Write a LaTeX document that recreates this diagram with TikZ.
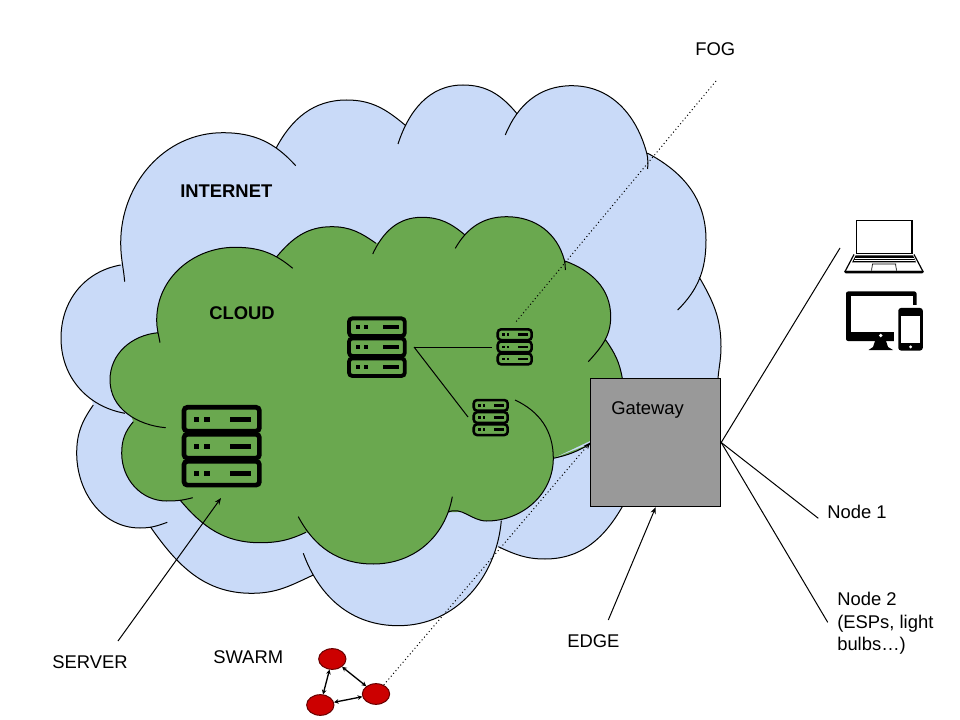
\documentclass[tikz,border=0pt]{standalone}
\usepackage{fontspec}
\setmainfont{Liberation Sans}
\usetikzlibrary{shapes.geometric, arrows.meta}
\definecolor{skyfill}{RGB}{201,218,248}
\definecolor{leaffill}{RGB}{106,168,79}
\definecolor{boxgray}{RGB}{153,153,153}
\definecolor{swarmred}{RGB}{204,0,0}
\definecolor{swarmedge}{RGB}{102,0,0}
\tikzset{
  cloudline/.style={draw=black, line width=0.75pt},
  label/.style={font=\fontsize{13.8}{16.9}\selectfont, inner sep=0pt, anchor=west},
  boldlabel/.style={label, font=\fontsize{13.8}{16.9}\selectfont\bfseries},
  wire/.style={line width=0.75pt},
  arrow/.style={-{Stealth[length=5pt,width=4pt]}, line width=0.75pt},
  fogline/.style={line width=0.75pt, dotted},
  swarmnode/.style={ellipse, draw=swarmedge, fill=swarmred, line width=0.75pt,
    minimum width=20.5pt, minimum height=15.5pt, inner sep=0pt},
  swarmlink/.style={{Stealth[length=3.5pt,width=3.5pt]}-{Stealth[length=3.5pt,width=3.5pt]},
    line width=1pt},
  pics/rackicon/.style={code={
    \foreach \u in {0,1,2} {
      \draw[line width=#1, rounded corners=2.5pt] (2.3,2.3+27*\u) rectangle (77.7,26.1+27*\u);
      \fill (12.3,11.5+27*\u) rectangle (17.6,17+27*\u);
      \fill (22.6,11.5+27*\u) rectangle (28.3,17+27*\u);
      \fill (48.3,11.5+27*\u) rectangle (69.3,17+27*\u);
    }
  }}
}
\begin{document}
\begin{tikzpicture}[x=0.75pt, y=-0.75pt]
  \useasboundingbox (0,0) rectangle (960,720);

  % internet cloud
  \fill[skyfill] (120.7,265) -- (128,245) -- (223,142) -- (276,148.3) -- (347,110) -- (405,125) -- (463,95)
    -- (516.7,113.3) -- (572,95) -- (640,150) -- (647.7,153.3) -- (696,240) -- (699.3,277.3) -- (712,346) -- (715,378)
    -- (700,470) -- (626,500) -- (545,550) -- (498.3,546.7) -- (398,615) -- (313.3,575) -- (252,583) -- (151,527.7)
    -- (140,518) -- (87,453) -- (93.3,405) -- (72,338) -- cycle;
  \path[cloudline, fill=skyfill]
    (124.7,281.7) to[out=95,in=270] (120.7,243) to[out=90,in=180] (223,132.7) to[out=0,in=132] (295.7,165.7)
    (276,148.3) to[out=62,in=180] (346.7,100) to[out=0,in=140] (405,125)
    (398,144) to[out=72,in=180] (463,85) to[out=0,in=130] (516.7,113.3)
    (505.3,135) to[out=68,in=180] (571.7,85.7) to[out=0,in=105] (646.7,153) to[out=285,in=90] (647.7,169)
    (647.7,153.3) to[out=-28,in=90] (706,240) to[out=270,in=45] (677.7,310)
    (699.3,277.3) to[out=-60,in=90] (721,346.7) to[out=270,in=85] (718,378.3) -- (700,470) -- (626,500)
    (626,500) to[out=-118,in=0] (545,559) to[out=180,in=-25] (498.3,546.7)
    (501.3,520.7) to[out=265,in=0] (398.3,625.7) to[out=180,in=-70] (303.3,553.3)
    (313.3,575) to[out=-155,in=0] (251.7,593.3) to[out=180,in=-55] (151,527.7)
    (167.3,522.3) to[out=-160,in=0] (140,528) to[out=180,in=270] (76.7,453.3) to[out=90,in=-125] (93.3,405)
    (125,413.3) to[out=170,in=270] (61,338) to[out=90,in=190] (120.7,265);

  % cloud network
  \fill[leaffill] (158.3,332.7) -- (162,320) -- (235,257) -- (276.7,256.7) -- (332,236) -- (376,243.3) -- (422,227)
    -- (465,235) -- (507,226) -- (565,261) -- (603,317) -- (605.7,340) -- (615,378) -- (615,420)
    -- (592,440) -- (553.3,458.3) -- (487,511) -- (447.7,512.3) -- (373,554) -- (306,532.3) -- (260,533)
    -- (180,500) -- (167,491) -- (130,453) -- (133.3,421.7) -- (118,380) -- cycle;
  \path[cloudline, fill=leaffill]
    (160,342.7) to[out=100,in=270] (156.7,320) to[out=90,in=180] (235,247.3) to[out=0,in=140] (292.7,268.3)
    (276.7,256.7) to[out=50,in=180] (331.7,226.7) to[out=0,in=145] (376,243.3)
    (372.7,254) to[out=65,in=180] (421.7,217.3) to[out=0,in=140] (465,235)
    (455.3,248.3) to[out=60,in=180] (506.7,216.7) to[out=0,in=105] (564.3,260) to[out=285,in=90] (565.3,270)
    (565,261) to[out=-20,in=90] (610.7,316.7) to[out=270,in=48] (588.3,361.7)
    (605.7,340) to[out=-55,in=100] (622.3,378.3) -- (622,420) -- (590,444)
    (590,444) to[out=-150,in=12] (553.3,458.3)
    (515,400) to[out=-25,in=90] (553.3,458.3) to[out=270,in=0] (486.7,521) to[out=180,in=25] (447.7,512.3)
    (452.3,496.7) to[out=260,in=0] (373.3,564) to[out=180,in=-62] (298.3,516.7)
    (306,532.3) to[out=-155,in=0] (260,542.7) to[out=180,in=-50] (180,500)
    (192.7,497.7) to[out=-165,in=0] (166.7,501) to[out=180,in=270] (121.7,453.3) to[out=90,in=-130] (133.3,421.7)
    (165.7,427.7) to[out=175,in=270] (110,380) to[out=90,in=185] (158.3,332.7);

  % racks
  \pic at (181.7,405) {rackicon=3.5pt};
  \pic[scale=0.74] at (347.3,316.7) {rackicon=2.9pt};
  \pic[scale=0.45] at (496.7,328.3) {rackicon=1.9pt};
  \pic[scale=0.45] at (472.7,399) {rackicon=1.9pt};

  \coordinate (hub) at (414,347);
  \coordinate (rackright) at (492,347);
  \coordinate (racklow) at (468,417);
  \draw[wire] (hub) -- (rackright);
  \draw[wire] (hub) -- (racklow);

  % gateway
  \node (gateway) [rectangle, draw=black, fill=boxgray, line width=0.75pt, inner sep=0pt,
    minimum width=97.5pt, minimum height=96.3pt] at (655.7,442.5) {};
  \node (gatewaytext) [label] at (611,410) {Gateway};

  % laptop
  \draw[line width=1.2pt] (856.5,220.5) rectangle (912,253.5);
  \draw[fill=white, line width=0.9pt] (854,254.5) -- (845,271.5) -- (923,271.5) -- (914,254.5);
  \fill (855.5,255.5) -- (913,255.5) -- (916,262.5) -- (852,262.5) -- cycle;
  \draw[white, line width=0.2pt] (854.5,258) -- (914,258) (853.5,260.3) -- (915,260.3);
  \draw[line width=0.5pt] (872.5,264) -- (871.5,270.5) (895.5,264) -- (896.5,270.5) (872,264) -- (896,264);
  \fill[rounded corners=0.8pt] (844.5,270.8) rectangle (923.5,273.3);

  % screens
  \fill[rounded corners=1.5pt] (846,291.5) rectangle (916.5,341);
  \fill[white] (850.5,296) rectangle (912.5,331.5);
  \fill[white] (893.5,305) rectangle (917,341.5);
  \fill (875,341) -- (886,341) -- (888,347) -- (893,350) -- (868.5,350) -- (873,347) -- cycle;
  \fill[white] (880.7,335.5) circle (1.9);
  \fill[rounded corners=2pt] (898.3,308) rectangle (922.8,350.5);
  \fill[white] (900.8,315.5) rectangle (920.3,343.3);
  \fill[white] (910.6,346.9) circle (1.6);

  % swarm
  \node (swarmtop) [swarmnode] at (332.3,659) {};
  \node (swarmright) [swarmnode] at (376,694) {};
  \node (swarmleft) [swarmnode] at (320.3,705) {};
  \draw[swarmlink] (swarmtop) -- (swarmright);
  \draw[swarmlink] (swarmtop) -- (swarmleft);
  \draw[swarmlink] (swarmleft) -- (swarmright);

  % fog lines
  \coordinate (fogtop) at (716,81);
  \coordinate (fograck) at (515,323);
  \draw[fogline] (fogtop) -- (fograck);
  \draw[fogline, -{Stealth[length=5pt,width=4pt]}] (swarmright) -- (gateway.west);

  % labels
  \node (internet) [boldlabel] at (180,191) {INTERNET};
  \node (cloudtext) [boldlabel] at (209,313) {CLOUD};
  \node (fog) [label] at (695,49) {FOG};
  \node (server) [label] at (52,662) {SERVER};
  \node (swarm) [label] at (213,657) {SWARM};
  \node (edge) [label] at (567,641) {EDGE};
  \node (nodeone) [label] at (827,512) {Node 1};
  \node (nodetwo) [label, align=left, anchor=north west] at (837,592) {Node 2\\(ESPs, light\\bulbs…)};

  % arrows and wires
  \coordinate (serverfrom) at (118,641);
  \coordinate (serverto) at (221,498);
  \coordinate (edgefrom) at (608.3,620);
  \draw[arrow] (serverfrom) -- (serverto);
  \draw[arrow] (edgefrom) -- (gateway.south);
  \coordinate (devices) at (840,248);
  \coordinate (nodeoneend) at (818.3,518.3);
  \coordinate (nodetwoend) at (827.7,622.3);
  \draw[wire] (gateway.east) -- (devices);
  \draw[wire] (gateway.east) -- (nodeoneend);
  \draw[wire] (gateway.east) -- (nodetwoend);
\end{tikzpicture}
\end{document}
